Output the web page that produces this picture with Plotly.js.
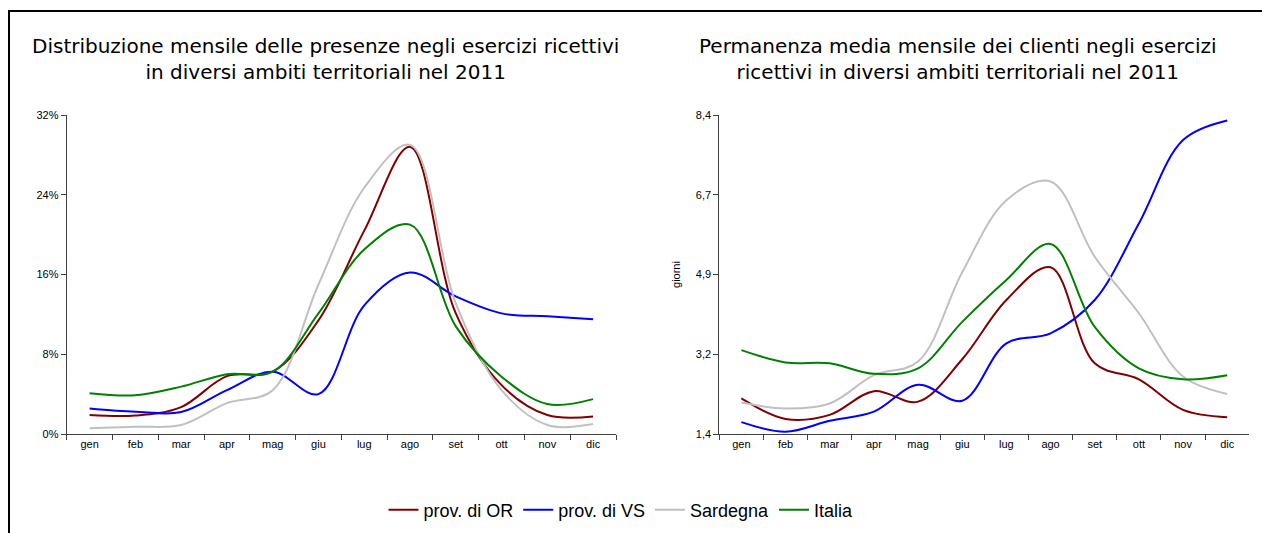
<!DOCTYPE html>
<html>
<head>
<meta charset="utf-8">
<script src="https://cdn.plot.ly/plotly-3.0.1.min.js"></script>
<style>
html,body{margin:0;padding:0;background:#fff;}
#chart{width:1262px;height:533px;}
</style>
</head>
<body>
<div id="chart"></div>
<script>
// ---- data ----
const months = ["gen","feb","mar","apr","mag","giu","lug","ago","set","ott","nov","dic"];
const seriesNames = ["prov. di OR","prov. di VS","Sardegna","Italia"];
const seriesColors = ["#800000","#0000FF","#C0C0C0","#008000"];

// Distribuzione mensile delle presenze (%)
const presOR  = [1.9, 1.85, 2.7, 5.8, 6.25, 11.4, 20.4, 28.8, 12.1, 4.9, 1.9, 1.75];
const presVS  = [2.57, 2.24, 2.2, 4.4, 6.25, 4.0, 12.9, 16.2, 13.8, 12.1, 11.8, 11.5];
const presSAR = [0.57, 0.73, 0.9, 3.1, 4.4, 15.0, 24.7, 29.0, 13.1, 4.4, 0.9, 1.0];
const presITA = [4.08, 3.88, 4.75, 6.0, 6.25, 12.1, 18.5, 21.0, 10.8, 5.75, 3.0, 3.5];

// Permanenza media mensile (giorni)
const permOR  = [2.18, 1.73, 1.82, 2.34, 2.11, 3.04, 4.34, 5.06, 2.95, 2.6, 1.93, 1.77];
const permVS  = [1.66, 1.45, 1.69, 1.89, 2.48, 2.13, 3.39, 3.61, 4.34, 6.02, 7.85, 8.28];
const permSAR = [2.09, 1.96, 2.07, 2.69, 2.99, 4.95, 6.53, 6.94, 5.29, 4.05, 2.66, 2.28];
const permITA = [3.24, 2.97, 2.95, 2.72, 2.84, 3.86, 4.78, 5.57, 3.75, 2.84, 2.6, 2.69];

const leftTicks = [0, 8, 16, 24, 32];
const leftTickText = ["0%","8%","16%","24%","32%"];
const rightTicks = [1.4, 3.15, 4.9, 6.65, 8.4];
const rightTickText = ["1,4","3,2","4,9","6,7","8,4"];

const title1 = "Distribuzione mensile delle presenze negli esercizi ricettivi<br>in diversi ambiti territoriali nel 2011";
const title2 = "Permanenza media mensile dei clienti negli esercizi<br>ricettivi in diversi ambiti territoriali nel 2011";
const yTitle2 = "giorni";

// ---- build ----
const W = 1262, H = 533;
const pres = [presOR, presVS, presSAR, presITA];
const perm = [permOR, permVS, permSAR, permITA];
const traces = [];
pres.forEach((vals, i) => {
  traces.push({x: months, y: vals, type: "scatter", mode: "lines", name: seriesNames[i],
    line: {color: seriesColors[i], width: 2, shape: "spline", smoothing: 1},
    xaxis: "x", yaxis: "y", showlegend: true, hoverinfo: "skip"});
});
perm.forEach((vals, i) => {
  traces.push({x: months, y: vals, type: "scatter", mode: "lines", name: seriesNames[i],
    line: {color: seriesColors[i], width: 2, shape: "spline", smoothing: 1},
    xaxis: "x2", yaxis: "y2", showlegend: false, hoverinfo: "skip"});
});

const fx = px => px / W;
const fy = py => 1 - py / H;
const axisFont = {family: "Liberation Sans, Arial, sans-serif", size: 11, color: "#000"};
const titleFont = {family: "DejaVu Sans, sans-serif", size: 20, color: "#000"};
const baseX = {
  type: "category", categoryorder: "array", categoryarray: months,
  range: [-0.5, 11.5], showgrid: false, zeroline: false,
  showline: true, linecolor: "#404040", linewidth: 1,
  ticks: "outside", ticklen: 5, tickcolor: "#404040", tickson: "boundaries",
  tickfont: axisFont, fixedrange: true
};
const baseY = {
  showgrid: false, zeroline: false, showline: true, linecolor: "#404040", linewidth: 1,
  ticks: "outside", ticklen: 5, tickcolor: "#404040", tickfont: axisFont,
  tickmode: "array", fixedrange: true
};

const yDom = [fy(434), fy(115)];
const layout = {
  width: W, height: H,
  margin: {l: 0, r: 0, t: 0, b: 0},
  paper_bgcolor: "#fff", plot_bgcolor: "rgba(0,0,0,0)",
  showlegend: true,
  legend: {orientation: "h", x: fx(621), xanchor: "center", y: fy(510), yanchor: "middle",
    font: {family: "Liberation Sans, Arial, sans-serif", size: 18, color: "#000"},
    itemwidth: 30, tracegroupgap: 0},
  xaxis: Object.assign({}, baseX, {domain: [fx(66.7), fx(616)], anchor: "y"}),
  yaxis: Object.assign({}, baseY, {domain: yDom, anchor: "x", range: [0, 32],
    tickvals: leftTicks, ticktext: leftTickText}),
  xaxis2: Object.assign({}, baseX, {domain: [fx(719.3), fx(1249.3)], anchor: "y2"}),
  yaxis2: Object.assign({}, baseY, {domain: yDom, anchor: "x2", range: [1.4, 8.4],
    tickvals: rightTicks, ticktext: rightTickText,
    title: {text: yTitle2, font: axisFont, standoff: 12}}),
  annotations: [
    {text: title1, xref: "paper", yref: "paper", x: fx(325), y: fy(59), xanchor: "center", yanchor: "middle",
     showarrow: false, align: "center", font: titleFont},
    {text: title2, xref: "paper", yref: "paper", x: fx(958), y: fy(59), xanchor: "center", yanchor: "middle",
     showarrow: false, align: "center", font: titleFont}
  ],
  shapes: [
    {type: "line", xref: "paper", yref: "paper", x0: fx(8), x1: 1, y0: fy(11), y1: fy(11), line: {color: "#000", width: 2}},
    {type: "line", xref: "paper", yref: "paper", x0: fx(9), x1: fx(9), y0: fy(10), y1: 0, line: {color: "#000", width: 2}}
  ]
};

Plotly.newPlot("chart", traces, layout, {staticPlot: true, displayModeBar: false});
</script>
</body>
</html>
